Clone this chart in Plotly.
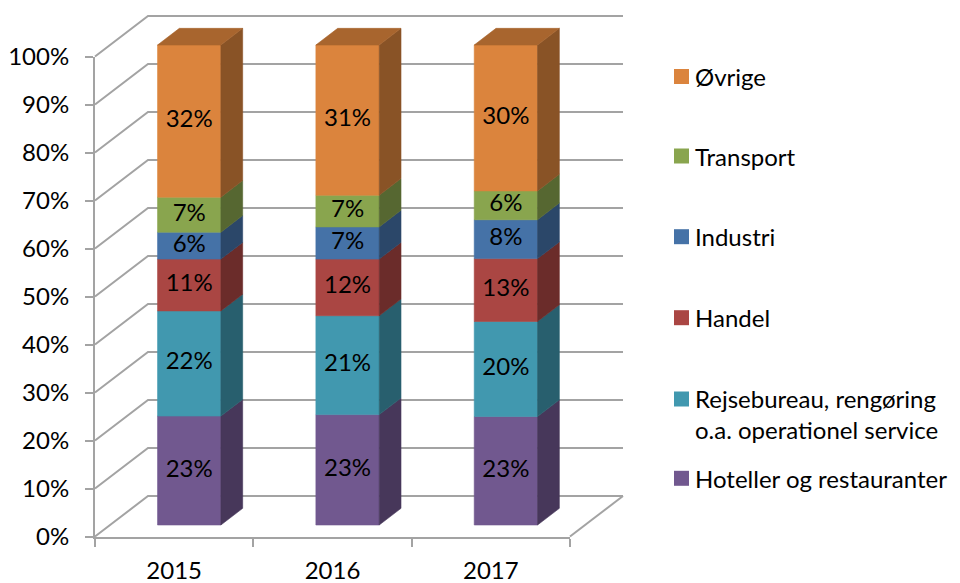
import plotly.graph_objects as go

# ---------------- data ----------------
years = ["2015", "2016", "2017"]
series_names = [
    "Hoteller og restauranter",
    "Rejsebureau, rengøring<br>o.a. operationel service",
    "Handel",
    "Industri",
    "Transport",
    "Øvrige",
]
hoteller = [22.7, 23.0, 22.6]
rejsebureau = [21.9, 20.6, 19.8]
handel = [10.8, 11.8, 13.1]
industri = [5.6, 6.7, 8.1]
transport = [7.3, 6.6, 6.0]
ovrige = [31.7, 31.3, 30.4]
y_tick_values = [0, 10, 20, 30, 40, 50, 60, 70, 80, 90, 100]
y_tick_labels = ["%d%%" % v for v in y_tick_values]

series_values = [hoteller, rejsebureau, handel, industri, transport, ovrige]
colors = ["#71588F", "#4198AF", "#AA4643", "#4572A7", "#89A54E", "#DB843D"]

# ---------------- layout / projection constants ----------------
W, H = 960, 583
AX_L = 95.0            # pixel x of the front-left axis
CAT_W = 475.0 / 3.0    # pixel width of one category
FLOOR_Y = 536.5        # pixel y of 0% on the front plane
PX_PCT = 4.8           # pixels per percent
DEPTH_DX = 53.0        # px shift of back wall
DEPTH_DY = 40.5        # px rise of back wall
DXu = DEPTH_DX / CAT_W
DYv = DEPTH_DY / PX_PCT
HALF = 0.2             # half bar width (category units)
D_FRONT, D_BACK = 0.284, 0.695
FONT = "Lato"
FS = 24
GRID = "#A3A3A3"


def shade(hexcol, f):
    r, g, b = int(hexcol[1:3], 16), int(hexcol[3:5], 16), int(hexcol[5:7], 16)
    return "rgb(%d,%d,%d)" % (r * f, g * f, b * f)


def proj(u, v, d):
    return u + d * DXu, v + d * DYv


fig = go.Figure()

# helper trace so the category axis knows its categories
fig.add_trace(go.Scatter(x=years, y=[0, 0, 0], mode="markers", marker=dict(opacity=0),
                         showlegend=False, hoverinfo="skip", xaxis="x", yaxis="y"))

# ---- walls: gridlines on back wall + left wall diagonals + floor right edge ----
ncat = len(years)
gx, gy = [], []
for v in y_tick_values:
    for (u, d) in [(-0.5, 0), (-0.5, 1), (ncat - 0.5, 1)]:
        px, py = proj(u, v, d)
        gx.append(px)
        gy.append(py)
    gx.append(None)
    gy.append(None)
for (u, d) in [(ncat - 0.5, 0), (ncat - 0.5, 1)]:
    px, py = proj(u, 0, d)
    gx.append(px)
    gy.append(py)
fig.add_trace(go.Scatter(x=gx, y=gy, mode="lines", line=dict(color=GRID, width=2),
                         showlegend=False, hoverinfo="skip", xaxis="x2", yaxis="y2"))

# ---- bars ----
totals = [sum(s[i] for s in series_values) for i in range(ncat)]
lab_x, lab_y, lab_t = [], [], []
for k, (vals, col) in enumerate(zip(series_values, colors)):
    fx, fy, sx, sy, tx, ty = [], [], [], [], [], []
    for i in range(ncat):
        b = sum(series_values[j][i] for j in range(k)) / totals[i] * 100
        t = b + vals[i] / totals[i] * 100
        # front face
        for (u, v) in [(i - HALF, b), (i + HALF, b), (i + HALF, t), (i - HALF, t), (i - HALF, b)]:
            px, py = proj(u, v, D_FRONT)
            fx.append(px)
            fy.append(py)
        fx.append(None)
        fy.append(None)
        # side face
        for (v, d) in [(b, D_FRONT), (t, D_FRONT), (t, D_BACK), (b, D_BACK), (b, D_FRONT)]:
            px, py = proj(i + HALF, v, d)
            sx.append(px)
            sy.append(py)
        sx.append(None)
        sy.append(None)
        # top face (top series only)
        if k == len(series_values) - 1:
            for (u, d) in [(i - HALF, D_FRONT), (i + HALF, D_FRONT), (i + HALF, D_BACK),
                           (i - HALF, D_BACK), (i - HALF, D_FRONT)]:
                px, py = proj(u, t, d)
                tx.append(px)
                ty.append(py)
            tx.append(None)
            ty.append(None)
        px, py = proj(i, (b + t) / 2, D_FRONT)
        lab_x.append(px)
        lab_y.append(py)
        lab_t.append("%.0f%%" % vals[i])
    fig.add_trace(go.Scatter(x=fx, y=fy, mode="lines", fill="toself", fillcolor=col,
                             line=dict(color=col, width=0.6), showlegend=False,
                             hoverinfo="skip", xaxis="x2", yaxis="y2"))
    sc = shade(col, 0.63)
    fig.add_trace(go.Scatter(x=sx, y=sy, mode="lines", fill="toself", fillcolor=sc,
                             line=dict(color=sc, width=0.6), showlegend=False,
                             hoverinfo="skip", xaxis="x2", yaxis="y2"))
    if tx:
        tc = shade(col, 0.77)
        fig.add_trace(go.Scatter(x=tx, y=ty, mode="lines", fill="toself", fillcolor=tc,
                                 line=dict(color=tc, width=0.6), showlegend=False,
                                 hoverinfo="skip", xaxis="x2", yaxis="y2"))

fig.add_trace(go.Scatter(x=lab_x, y=lab_y, mode="text", text=lab_t,
                         textfont=dict(family=FONT, size=FS, color="black"),
                         showlegend=False, hoverinfo="skip", xaxis="x2", yaxis="y2"))

# ---- manual legend (top to bottom: reversed series order) ----
legend_centers = [478.3, 414.0, 317.7, 236.7, 156.0, 76.5]   # px, per series
swatch_centers = [478.3, 399.0, 317.7, 236.7, 156.0, 76.5]
shapes = []
annotations = []
for name, col, yc, ys in zip(series_names, colors, legend_centers, swatch_centers):
    shapes.append(dict(type="rect", xref="paper", yref="paper",
                       x0=674 / W, x1=689 / W, y0=1 - (ys + 7.5) / H, y1=1 - (ys - 7.5) / H,
                       fillcolor=col, line=dict(width=0)))
    annotations.append(dict(xref="paper", yref="paper", x=693 / W, y=1 - yc / H,
                            xanchor="left", yanchor="middle", text=name, showarrow=False,
                            align="left", font=dict(family=FONT, size=FS, color="black")))

# ---- axes ----
u_left = -0.5 - AX_L / CAT_W
u_right = -0.5 + (W - AX_L) / CAT_W
v_bot = -(H - FLOOR_Y) / PX_PCT
v_top = FLOOR_Y / PX_PCT

fig.update_layout(
    width=W, height=H,
    margin=dict(l=0, r=0, t=0, b=0, pad=0, autoexpand=False),
    paper_bgcolor="white", plot_bgcolor="rgba(0,0,0,0)",
    showlegend=False,
    font=dict(family=FONT, size=FS, color="black"),
    xaxis=dict(type="category", categoryorder="array", categoryarray=years,
               domain=[AX_L / W, (AX_L + ncat * CAT_W) / W], range=[-0.5, ncat - 0.5],
               anchor="y", showgrid=False, zeroline=False, showline=True, automargin=False,
               linecolor=GRID, linewidth=2, ticks="outside", tickson="boundaries",
               ticklen=8, tickwidth=2, tickcolor=GRID, ticklabelstandoff=12,
               tickfont=dict(family=FONT, size=FS, color="black"), fixedrange=True),
    yaxis=dict(domain=[(H - FLOOR_Y) / H, (H - FLOOR_Y + 100 * PX_PCT) / H],
               range=[0, 100], anchor="x", tickvals=y_tick_values, ticktext=y_tick_labels,
               showgrid=False, zeroline=False, showline=True, linecolor=GRID, linewidth=2,
               automargin=False,
               ticks="outside", ticklen=8, tickwidth=2, tickcolor=GRID, ticklabelstandoff=11,
               tickfont=dict(family=FONT, size=FS, color="black"), fixedrange=True),
    xaxis2=dict(domain=[0, 1], range=[u_left, u_right], anchor="y2", visible=False,
                fixedrange=True, automargin=False),
    yaxis2=dict(domain=[0, 1], range=[v_bot, v_top], anchor="x2", visible=False,
                fixedrange=True, automargin=False),
    shapes=shapes,
    annotations=annotations,
)

fig.write_html(
    "out.html",
    config={"displayModeBar": False},
    post_script="document.body.style.margin='0px';document.body.style.overflow='hidden';",
)
